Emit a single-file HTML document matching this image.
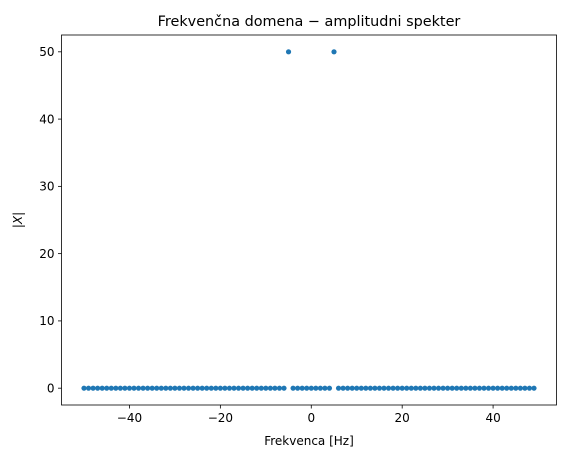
<!DOCTYPE html>
<html><head><meta charset="utf-8"><style>
body{margin:0;background:#fff;}
svg text{font-family:"DejaVu Sans","Liberation Sans",sans-serif;fill:#000;}
</style></head><body>
<svg id="chart" width="566" height="458" xmlns="http://www.w3.org/2000/svg">
<rect x="0" y="0" width="566" height="458" fill="#fff"/>
<text x="309" y="26" font-size="14.4" text-anchor="middle">Frekvenčna domena − amplitudni spekter</text>
<text x="309" y="445" font-size="12" text-anchor="middle">Frekvenca [Hz]</text>
<text x="22" y="220" font-size="12" text-anchor="middle" transform="rotate(-90 22 220)" font-style="italic">|X|</text>
<g id="marks"></g>
<g id="axes"></g>
</svg>
<script>
const freqs = [];
for (let f = -50; f <= 49; f++) freqs.push(f);
const peakFreqs = [-5, 5];
const peakValue = 50;
const xTicks = [-40, -20, 0, 20, 40];
const xTickLabels = ["−40", "−20", "0", "20", "40"];
const yTicks = [0, 10, 20, 30, 40, 50];
const yTickLabels = ["0", "10", "20", "30", "40", "50"];

const L = 61.5, R = 556.5, T = 35, B = 405;
const xmin = -54.95, xmax = 53.95, ymin = -2.5, ymax = 52.5;
const sx = v => L + (v - xmin) / (xmax - xmin) * (R - L);
const sy = v => B - (v - ymin) / (ymax - ymin) * (B - T);
const NS = "http://www.w3.org/2000/svg";
const marks = document.getElementById("marks");
const axes = document.getElementById("axes");

freqs.forEach(f => {
  const val = peakFreqs.includes(f) ? peakValue : 0;
  const c = document.createElementNS(NS, "circle");
  c.setAttribute("cx", sx(f)); c.setAttribute("cy", sy(val)); c.setAttribute("r", 2.6);
  c.setAttribute("fill", "#1f77b4");
  
  
  marks.appendChild(c);
});

const frame = document.createElementNS(NS, "rect");
frame.setAttribute("x", L); frame.setAttribute("y", T);
frame.setAttribute("width", R - L); frame.setAttribute("height", B - T);
frame.setAttribute("fill", "none"); frame.setAttribute("stroke", "#000"); frame.setAttribute("stroke-width", "0.8");


axes.appendChild(frame);

xTicks.forEach((t, i) => {
  const x = sx(t);
  const ln = document.createElementNS(NS, "line");
  ln.setAttribute("x1", x); ln.setAttribute("x2", x); ln.setAttribute("y1", B); ln.setAttribute("y2", B + 3.5);
  ln.setAttribute("stroke", "#000"); ln.setAttribute("stroke-width", "0.8");
  
  
  axes.appendChild(ln);
  const tx = document.createElementNS(NS, "text");
  tx.setAttribute("x", x); tx.setAttribute("y", B + 17); tx.setAttribute("font-size", "12");
  tx.setAttribute("text-anchor", "middle"); tx.textContent = xTickLabels[i];
  
  
  axes.appendChild(tx);
});
yTicks.forEach((t, i) => {
  const y = sy(t);
  const ln = document.createElementNS(NS, "line");
  ln.setAttribute("x1", L - 3.5); ln.setAttribute("x2", L); ln.setAttribute("y1", y); ln.setAttribute("y2", y);
  ln.setAttribute("stroke", "#000"); ln.setAttribute("stroke-width", "0.8");
  
  
  axes.appendChild(ln);
  const tx = document.createElementNS(NS, "text");
  tx.setAttribute("x", L - 7); tx.setAttribute("y", y + 4.3); tx.setAttribute("font-size", "12");
  tx.setAttribute("text-anchor", "end"); tx.textContent = yTickLabels[i];
  
  
  axes.appendChild(tx);
});
</script>
</body></html>
